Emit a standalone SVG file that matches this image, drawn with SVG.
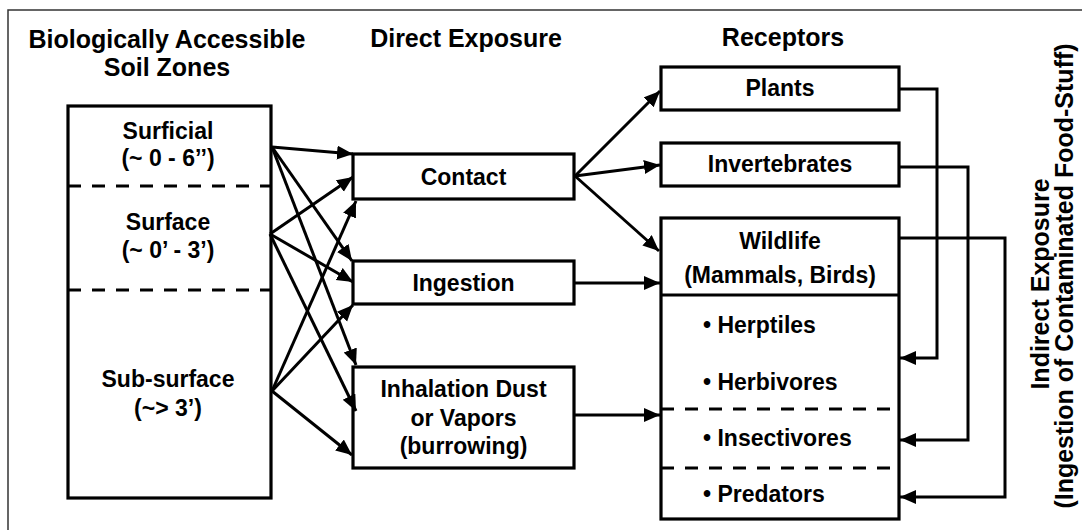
<svg xmlns="http://www.w3.org/2000/svg" width="1082" height="530" viewBox="0 0 1082 530">
<defs>
<marker id="ah" markerUnits="userSpaceOnUse" markerWidth="17" markerHeight="15" refX="16" refY="7" orient="auto">
<path d="M0,0 L16,7 L0,14 Z" fill="#000"/>
</marker>
<style>
text{font-family:"Liberation Sans",Arial,sans-serif;font-weight:bold;fill:#000}
.hd{font-size:25px;text-anchor:middle}
.lb{font-size:23px;text-anchor:middle}
.bl{font-size:23px;text-anchor:start}
.box{fill:#fff;stroke:#000;stroke-width:3.2}
.dash{stroke:#000;stroke-width:3.2;stroke-dasharray:13 11;fill:none}
.solid{stroke:#000;stroke-width:3.2;fill:none}
.cn{stroke:#000;stroke-width:3;fill:none;marker-end:url(#ah)}
</style>
</defs>
<rect width="1082" height="530" fill="#fff"/>
<path d="M8,530 V10 H1082" fill="none" stroke="#333" stroke-width="1.5"/>
<g id="headers">
<text class="hd" x="167" y="48">Biologically Accessible</text>
<text class="hd" x="167" y="76">Soil Zones</text>
<text class="hd" x="466" y="47">Direct Exposure</text>
<text class="hd" x="783" y="46">Receptors</text>
</g>
<g id="indirect-label">
<text class="hd" transform="translate(1049,284) rotate(-90)">Indirect Exposure</text>
<text class="hd" transform="translate(1073,276) rotate(-90)">(Ingestion of Contaminated Food-Stuff)</text>
</g>
<g id="soil-zones">
<rect class="box" x="68" y="106" width="203" height="392"/>
<line class="dash" x1="68" y1="186" x2="271" y2="186"/>
<line class="dash" x1="68" y1="290" x2="271" y2="290"/>
<text class="lb" x="168" y="139">Surficial</text>
<text class="lb" x="168" y="166">(~ 0 - 6’’)</text>
<text class="lb" x="168" y="230">Surface</text>
<text class="lb" x="168" y="258">(~ 0’ - 3’)</text>
<text class="lb" x="168" y="387">Sub-surface</text>
<text class="lb" x="168" y="416">(~&gt; 3’)</text>
</g>
<g id="contact">
<rect class="box" x="353" y="154" width="221" height="45"/>
<text class="lb" x="463.5" y="185">Contact</text>
</g>
<g id="ingestion">
<rect class="box" x="353" y="261" width="221" height="43"/>
<text class="lb" x="463.5" y="291">Ingestion</text>
</g>
<g id="inhalation">
<rect class="box" x="353" y="367" width="221" height="101"/>
<text class="lb" x="463.5" y="397">Inhalation Dust</text>
<text class="lb" x="463.5" y="426">or Vapors</text>
<text class="lb" x="463.5" y="454">(burrowing)</text>
</g>
<g id="plants">
<rect class="box" x="661" y="67" width="238" height="43"/>
<text class="lb" x="780" y="96">Plants</text>
</g>
<g id="invertebrates">
<rect class="box" x="661" y="143" width="238" height="43"/>
<text class="lb" x="780" y="172">Invertebrates</text>
</g>
<g id="wildlife">
<rect class="box" x="661" y="218" width="238" height="301"/>
<line class="solid" x1="661" y1="295" x2="899" y2="295"/>
<line class="dash" x1="661" y1="409" x2="891" y2="409"/>
<line class="dash" x1="661" y1="468" x2="891" y2="468"/>
<text class="lb" x="780" y="249">Wildlife</text>
<text class="lb" x="780" y="283">(Mammals, Birds)</text>
<text class="bl" x="703" y="333">• Herptiles</text>
<text class="bl" x="703" y="390">• Herbivores</text>
<text class="bl" x="703" y="446">• Insectivores</text>
<text class="bl" x="703" y="502">• Predators</text>
</g>
<g id="connectors">
<path class="cn" d="M272,147 L353,154"/>
<path class="cn" d="M272,147 L352,261"/>
<path class="cn" d="M272,147 L356,365"/>
<path class="cn" d="M270,234 L353,177"/>
<path class="cn" d="M270,234 L353,282"/>
<path class="cn" d="M270,234 L356,411"/>
<path class="cn" d="M272,391 L356,201"/>
<path class="cn" d="M272,391 L353,305"/>
<path class="cn" d="M272,391 L352,455"/>
<path class="cn" d="M575,176 L660,91"/>
<path class="cn" d="M575,176 L660,165"/>
<path class="cn" d="M575,176 L659,251"/>
<path class="cn" d="M575,283 L660,283"/>
<path class="cn" d="M575,415 L660,415"/>
<path class="cn" d="M900,89 H937 V358 H900"/>
<path class="cn" d="M900,167 H968 V440 H900"/>
<path class="cn" d="M900,238 H1005 V497 H900"/>
</g>
</svg>
